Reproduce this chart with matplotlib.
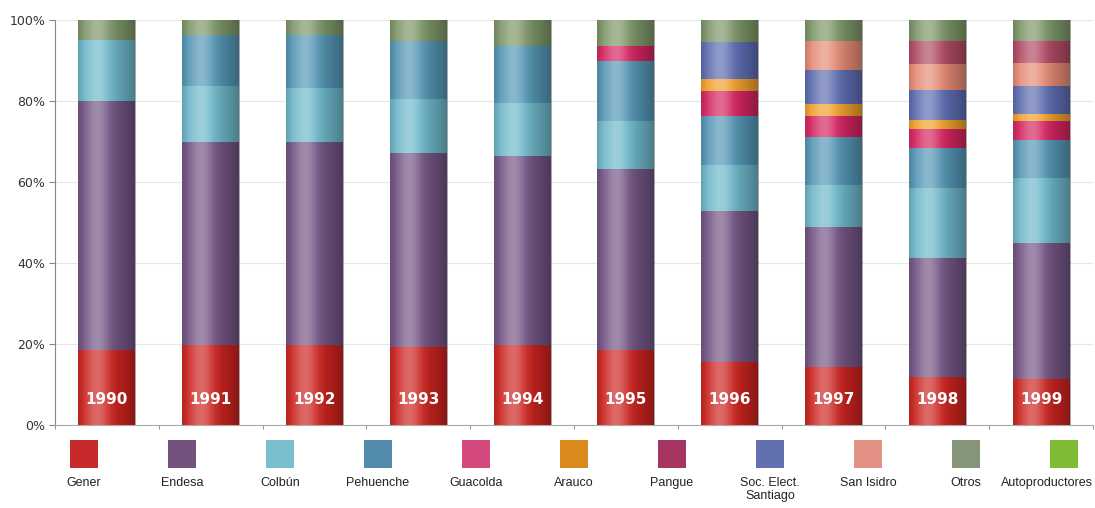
import numpy as np
import matplotlib
matplotlib.use("Agg")
import matplotlib.pyplot as plt
from matplotlib.patches import Rectangle
from matplotlib.ticker import FuncFormatter, MultipleLocator

# ── Data (share of generation, %) ──
years = ["1990", "1991", "1992", "1993", "1994", "1995", "1996", "1997", "1998", "1999"]

gener = [18.5, 19.7, 19.7, 19.3, 19.7, 18.5, 15.6, 14.3, 11.8, 11.4]
endesa = [61.5, 50.3, 50.3, 48.0, 46.8, 44.9, 37.4, 34.6, 29.6, 33.6]
colbun = [15.2, 13.9, 13.4, 13.2, 13.2, 11.8, 11.4, 10.5, 17.2, 16.1]
pehuenche = [0.0, 12.4, 12.9, 14.5, 14.1, 14.7, 12.0, 11.8, 9.9, 9.3]
guacolda = [0.0, 0.0, 0.0, 0.0, 0.0, 3.7, 6.2, 5.2, 4.8, 4.8]
arauco = [0.0, 0.0, 0.0, 0.0, 0.0, 0.0, 2.9, 2.9, 2.0, 1.8]
pangue = [0.0, 0.0, 0.0, 0.0, 0.0, 0.0, 0.0, 0.0, 5.8, 5.6]
soc_elect = [0.0, 0.0, 0.0, 0.0, 0.0, 0.0, 9.1, 8.4, 7.5, 6.9]
san_isidro = [0.0, 0.0, 0.0, 0.0, 0.0, 0.0, 0.0, 7.3, 6.4, 5.5]
otros = [4.8, 3.7, 3.7, 5.0, 6.2, 6.4, 5.4, 5.0, 5.0, 5.0]
autoproductores = [0.0, 0.0, 0.0, 0.0, 0.0, 0.0, 0.0, 0.0, 0.0, 0.0]

# legend order
legend_names = ["Gener", "Endesa", "Colbún", "Pehuenche", "Guacolda", "Arauco",
                "Pangue", "Soc. Elect.\nSantiago", "San Isidro", "Otros", "Autoproductores"]
legend_colors = ["#c41e1e", "#6a4878", "#72bccb", "#4a86a6", "#d23f76", "#d8840e",
                 "#a12a5a", "#5a68aa", "#e08a7c", "#7f8f72", "#78b82a"]

# stacking order (bottom to top) as drawn in the bars
stack = [
    (gener, "#cc2420"),
    (endesa, "#725483"),
    (colbun, "#6db7c9"),
    (pehuenche, "#5496b4"),
    (guacolda, "#d42560"),
    (arauco, "#f0a02c"),
    (soc_elect, "#5d6cb0"),
    (san_isidro, "#e48a74"),
    (pangue, "#b04a64"),
    (otros, "#7d9668"),
    (autoproductores, "#78b82a"),
]

W, H = 1095, 508
fig = plt.figure(figsize=(W / 100, H / 100), dpi=100, facecolor="white")
ax = fig.add_axes([55 / W, 83 / H, 1038 / W, 404.5 / H])

x = np.arange(len(years))
bw = 0.55
bottom = np.zeros(len(years))
for vals, col in stack:
    v = np.array(vals)
    ax.bar(x, v, bw, bottom=bottom, color=col, linewidth=0, zorder=2)
    bottom += v

# horizontal shading on every bar (cylinder-like look)
t = np.linspace(0, 1, 200)
light = 0.32 * np.exp(-((t - 0.33) / 0.2) ** 2)
dark = 0.34 * np.clip((t - 0.45) / 0.55, 0, 1) ** 1.3 + 0.12 * np.clip((0.12 - t) / 0.12, 0, 1)
white_img = np.zeros((1, t.size, 4)); white_img[..., :3] = 1.0; white_img[..., 3] = light
black_img = np.zeros((1, t.size, 4)); black_img[..., 3] = dark
for xi in x:
    ext = (xi - bw / 2, xi + bw / 2, 0, 100)
    ax.imshow(white_img, extent=ext, aspect="auto", zorder=3, interpolation="bilinear")
    ax.imshow(black_img, extent=ext, aspect="auto", zorder=3, interpolation="bilinear")

# year labels inside the bars
for xi, yr in zip(x, years):
    ax.text(xi, 6.3, yr, ha="center", va="center", color="white",
            fontsize=11, fontweight="bold", zorder=5)

ax.set_xlim(-0.5, len(years) - 0.5)
ax.set_ylim(0, 100)
ax.yaxis.set_major_locator(MultipleLocator(20))
ax.yaxis.set_major_formatter(FuncFormatter(lambda v, p: f"{v:.0f}%"))
ax.set_xticks(np.arange(len(years) + 1) - 0.5)
ax.set_xticklabels([])
ax.tick_params(axis="x", length=3, color="#999999", direction="out")
ax.tick_params(axis="y", length=4, color="#888888", labelsize=9, labelcolor="#333333", pad=3)
ax.grid(axis="y", color="#e6e6e6", linewidth=0.8, zorder=0)
ax.set_axisbelow(True)
for s in ["top", "right"]:
    ax.spines[s].set_visible(False)
ax.spines["left"].set_color("#888888")
ax.spines["bottom"].set_color("#aaaaaa")

# ── Legend row: square above label ──
n = len(legend_names)
for i, (name, col) in enumerate(zip(legend_names, legend_colors)):
    cx = 84 + 98 * i
    fig.patches.append(Rectangle(((cx - 14) / W, (H - 468) / H), 28 / W, 28 / H,
                                 transform=fig.transFigure, facecolor=col,
                                 edgecolor="none", alpha=0.95))
    if i == n - 1:
        tx, ha = 1093, "right"
    else:
        tx, ha = cx, "center"
    fig.text(tx / W, (H - 477) / H, name, ha=ha, va="top", fontsize=9,
             color="#222222", family=["Liberation Sans", "DejaVu Sans"],
             linespacing=1.1)

fig.savefig("out.png", dpi=100, facecolor="white")
